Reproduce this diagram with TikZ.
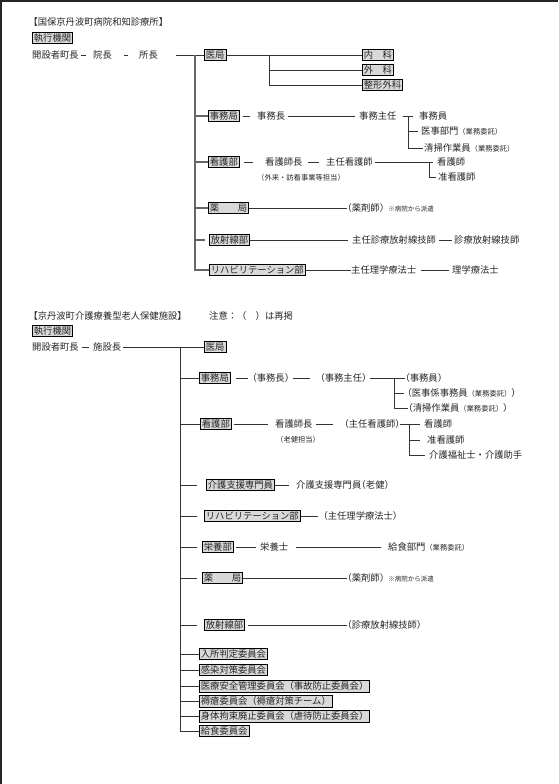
\documentclass[tikz,border=0pt]{standalone}
\usepackage{fontspec}
\setmainfont{Noto Sans CJK JP}[RawFeature=+halt]
\newfontfamily\zenkaku{Noto Sans CJK JP}
\newcommand\chu{\zenkaku\fontsize{7.3}{8}\selectfont}
\newcommand\sho{\zenkaku\fontsize{6.5}{7}\selectfont}

\begin{document}
\begin{tikzpicture}[x=1pt,y=-1pt,
    txt/.style={anchor=west,inner sep=0pt,text=black!85,font=\fontsize{9.3}{11}\selectfont},
    bx/.style={txt,draw=black,line width=0.8pt,fill=gray!30,inner sep=1.5pt},
    com/.style={bx,font=\zenkaku\fontsize{9.3}{11}\selectfont},
    ln/.style={draw=black!80,line width=0.8pt},
    trunk/.style={ln,line width=1.1pt,draw=black!60}]
  \useasboundingbox (0,0) rectangle (558,784);
  \draw[line width=2pt,black!85] (1,784) -- (1,1) -- (558,1);

  % 病院和知診療所
  \node[txt] (title1) at (33,22) {【国保京丹波町病院和知診療所】};
  \node[bx] (exec1) at (32,38) {執行機関};
  \node[txt] (kaisetsu1) at (32,55) {開設者町長};
  \node[txt] (inchou) at (93,55) {院長};
  \node[txt] (shochou) at (139,55) {所長};
  \node[bx] (ikyoku1) at (204,55) {医局};
  \node[bx] (naika) at (362,55) {内　科};
  \node[bx] (geka) at (362,70) {外　科};
  \node[bx] (seikei) at (362,85) {整形外科};

  \node[bx] (jimu1) at (208,116) {事務局};
  \node[txt] (jimuchou1) at (257,116) {事務長};
  \node[txt] (jimushunin1) at (359,116) {事務主任};
  \node[txt] (jimuin1) at (419,116) {事務員};
  \node[txt] (iji1) at (421,131) {医事部門{\chu（業務委託）}};
  \node[txt] (seisou1) at (424,148) {清掃作業員{\chu（業務委託）}};

  \node[bx] (kango1) at (208,162) {看護部};
  \node[txt] (kangochou1) at (265,162) {看護師長};
  \node[txt] (tantou1) at (257,178) {\chu（外来・訪看事業等担当）};
  \node[txt] (shuninkango1) at (326,162) {主任看護師};
  \node[txt] (kangoshi1) at (437,162) {看護師};
  \node[txt] (junkango1) at (438,177) {准看護師};

  \node[bx] (yaku1) at (208,208) {薬　　局};
  \node[txt] (yakuzai1) at (347,208) {（薬剤師）\hspace{4pt}{\sho ※病院から派遣}};
  \node[bx] (hoshasen1) at (209,240) {放射線部};
  \node[txt] (shuninhoshasen1) at (352,240) {主任診療放射線技師};
  \node[txt] (hoshasengishi1) at (454,240) {診療放射線技師};
  \node[bx] (reha1) at (209,270) {リハビリテーション部};
  \node[txt] (shuninrigaku1) at (351,270) {主任理学療法士};
  \node[txt] (rigaku1) at (452,270) {理学療法士};

  \draw[ln,shorten <=2pt,shorten >=7pt] (kaisetsu1.east) -- (inchou.west);
  \draw[ln,shorten <=12pt,shorten >=11pt] (inchou.east) -- (shochou.west);
  \draw[ln,shorten <=18pt] (shochou.east) -- (ikyoku1.west);
  \coordinate (trunk1) at (195,55);
  \draw[trunk] (trunk1) |- (reha1.west);
  \foreach \n in {jimu1,kango1,yaku1}
    \draw[trunk] (trunk1 |- \n.west) -- (\n.west);
  \draw[trunk,shorten >=4pt] (trunk1 |- hoshasen1.west) -- (hoshasen1.west);
  \coordinate (ika) at (269,55);
  \draw[ln] (ikyoku1.east) -- (naika.west);
  \draw[ln] (ika) |- (seikei.west);
  \draw[ln] (ika |- geka.west) -- (geka.west);

  \draw[ln,shorten <=3pt,shorten >=7pt] (jimu1.east) -- (jimuchou1.west);
  \draw[ln,shorten <=3pt,shorten >=4pt] (jimuchou1.east) -- (jimushunin1.west);
  \draw[ln,shorten <=6pt,shorten >=6pt] (jimushunin1.east) -- (jimuin1.west);
  \coordinate (jimubr1) at (408,116);
  \draw[ln,shorten >=1pt] (jimubr1) |- (seisou1.west);
  \draw[ln,shorten >=3pt] (jimubr1 |- iji1.west) -- (iji1.west);

  \draw[ln,shorten <=4pt,shorten >=12pt] (kango1.east) -- (kangochou1.west);
  \draw[ln,shorten <=5pt,shorten >=7pt] (kangochou1.east) -- (shuninkango1.west);
  \draw[ln,shorten <=2pt,shorten >=4pt] (shuninkango1.east) -- (kangoshi1.west);
  \coordinate (kangobr1) at (429,162);
  \draw[ln,shorten >=2pt] (kangobr1) |- (junkango1.west);

  \draw[ln] (yaku1.east) -- (yakuzai1.west);
  \draw[ln,shorten >=4pt] (hoshasen1.east) -- (shuninhoshasen1.west);
  \draw[ln,shorten <=3pt,shorten >=2pt] (shuninhoshasen1.east) -- (hoshasengishi1.west);
  \draw[ln] (reha1.east) -- (shuninrigaku1.west);
  \draw[ln,shorten <=4pt,shorten >=3pt] (shuninrigaku1.east) -- (rigaku1.west);

  % 介護療養型老人保健施設
  \node[txt] (title2) at (33,316) {【京丹波町介護療養型老人保健施設】};
  \node[txt] (chui) at (209,316) {\zenkaku 注意：（　）は再掲};
  \node[bx] (exec2) at (32,331) {執行機関};
  \node[txt] (kaisetsu2) at (32,347) {開設者町長};
  \node[txt] (shisetsuchou) at (93,347) {施設長};
  \node[bx] (ikyoku2) at (204,347) {医局};

  \node[bx] (jimu2) at (199,378) {事務局};
  \node[txt] (jimuchou2) at (252,378) {（事務長）};
  \node[txt] (jimushunin2) at (320,378) {（事務主任）};
  \node[txt] (jimuin2) at (405,378) {（事務員）};
  \node[txt] (iji2) at (407,393) {（医事係事務員{\chu（業務委託）}）};
  \node[txt] (seisou2) at (408,408) {（清掃作業員{\chu（業務委託）}）};

  \node[bx] (kango2) at (200,424) {看護部};
  \node[txt] (kangochou2) at (275,424) {看護師長};
  \node[txt] (tantou2) at (276,440) {\chu（老健担当）};
  \node[txt] (shuninkango2) at (344,424) {（主任看護師）};
  \node[txt] (kangoshi2) at (424,424) {看護師};
  \node[txt] (junkango2) at (427,440) {准看護師};
  \node[txt] (kaigo2) at (429,455) {\zenkaku 介護福祉士・介護助手};

  \node[bx] (shien) at (206,485) {介護支援専門員};
  \node[txt] (shien2) at (296,485) {介護支援専門員（老健）};
  \node[bx] (reha2) at (204,516) {リハビリテーション部};
  \node[txt] (shuninrigaku2) at (323,516) {（主任理学療法士）};
  \node[bx] (eiyou) at (202,547) {栄養部};
  \node[txt] (eiyoushi) at (260,547) {栄養士};
  \node[txt] (kyushoku) at (388,547) {給食部門{\chu（業務委託）}};
  \node[bx] (yaku2) at (202,578) {薬　　局};
  \node[txt] (yakuzai2) at (347,578) {（薬剤師）\hspace{4pt}{\sho ※病院から派遣}};
  \node[bx] (hoshasen2) at (204,625) {放射線部};
  \node[txt] (shinryo2) at (347,625) {（診療放射線技師）};

  \foreach \i/\y/\t in {1/654/入所判定委員会,2/670/感染対策委員会,
      3/686/医療安全管理委員会（事故防止委員会）,4/701/褥瘡委員会（褥瘡対策チーム）,
      5/716/身体拘束廃止委員会（虐待防止委員会）,6/731/給食委員会}
    \node[com] (iinkai\i) at (199,\y) {\t};

  \draw[ln,shorten <=3pt,shorten >=4pt] (kaisetsu2.east) -- (shisetsuchou.west);
  \draw[ln,shorten <=2pt] (shisetsuchou.east) -- (ikyoku2.west);
  \coordinate (trunk2) at (180,347);
  \draw[ln] (trunk2) |- (iinkai6.west);
  \foreach \n in {jimu2,kango2,iinkai1,iinkai2,iinkai3,iinkai4,iinkai5}
    \draw[ln] (trunk2 |- \n.west) -- (\n.west);
  \foreach \n/\s in {shien/9,reha2/7,eiyou/5,yaku2/5,hoshasen2/7}
    \draw[ln,shorten >=\s pt] (trunk2 |- \n.west) -- (\n.west);

  \draw[ln,shorten <=5pt,shorten >=4pt] (jimu2.east) -- (jimuchou2.west);
  \draw[ln,shorten <=3pt,shorten >=10pt] (jimuchou2.east) -- (jimushunin2.west);
  \draw[ln,shorten <=3pt] (jimushunin2.east) -- (jimuin2.west);
  \coordinate (jimubr2) at (394,378);
  \draw[ln] (jimubr2) |- (seisou2.west);
  \draw[ln,shorten >=3pt] (jimubr2 |- iji2.west) -- (iji2.west);

  \draw[ln,shorten <=2pt,shorten >=7pt] (kango2.east) -- (kangochou2.west);
  \draw[ln,shorten <=3pt,shorten >=11pt] (kangochou2.east) -- (shuninkango2.west);
  \draw[ln,shorten >=4pt] (shuninkango2.east) -- (kangoshi2.west);
  \coordinate (kangobr2) at (409,424);
  \draw[ln,shorten >=4pt] (kangobr2) |- (kaigo2.west);
  \draw[ln,shorten >=7pt] (kangobr2 |- junkango2.west) -- (junkango2.west);

  \draw[ln,shorten >=7pt] (shien.east) -- (shien2.west);
  \draw[ln,shorten >=5pt] (reha2.east) -- (shuninrigaku2.west);
  \draw[ln,shorten <=2pt,shorten >=4pt] (eiyou.east) -- (eiyoushi.west);
  \draw[ln,shorten <=8pt,shorten >=7pt] (eiyoushi.east) -- (kyushoku.west);
  \draw[ln] (yaku2.east) -- (yakuzai2.west);
  \draw[ln,shorten <=3pt] (hoshasen2.east) -- (shinryo2.west);
\end{tikzpicture}
\end{document}
